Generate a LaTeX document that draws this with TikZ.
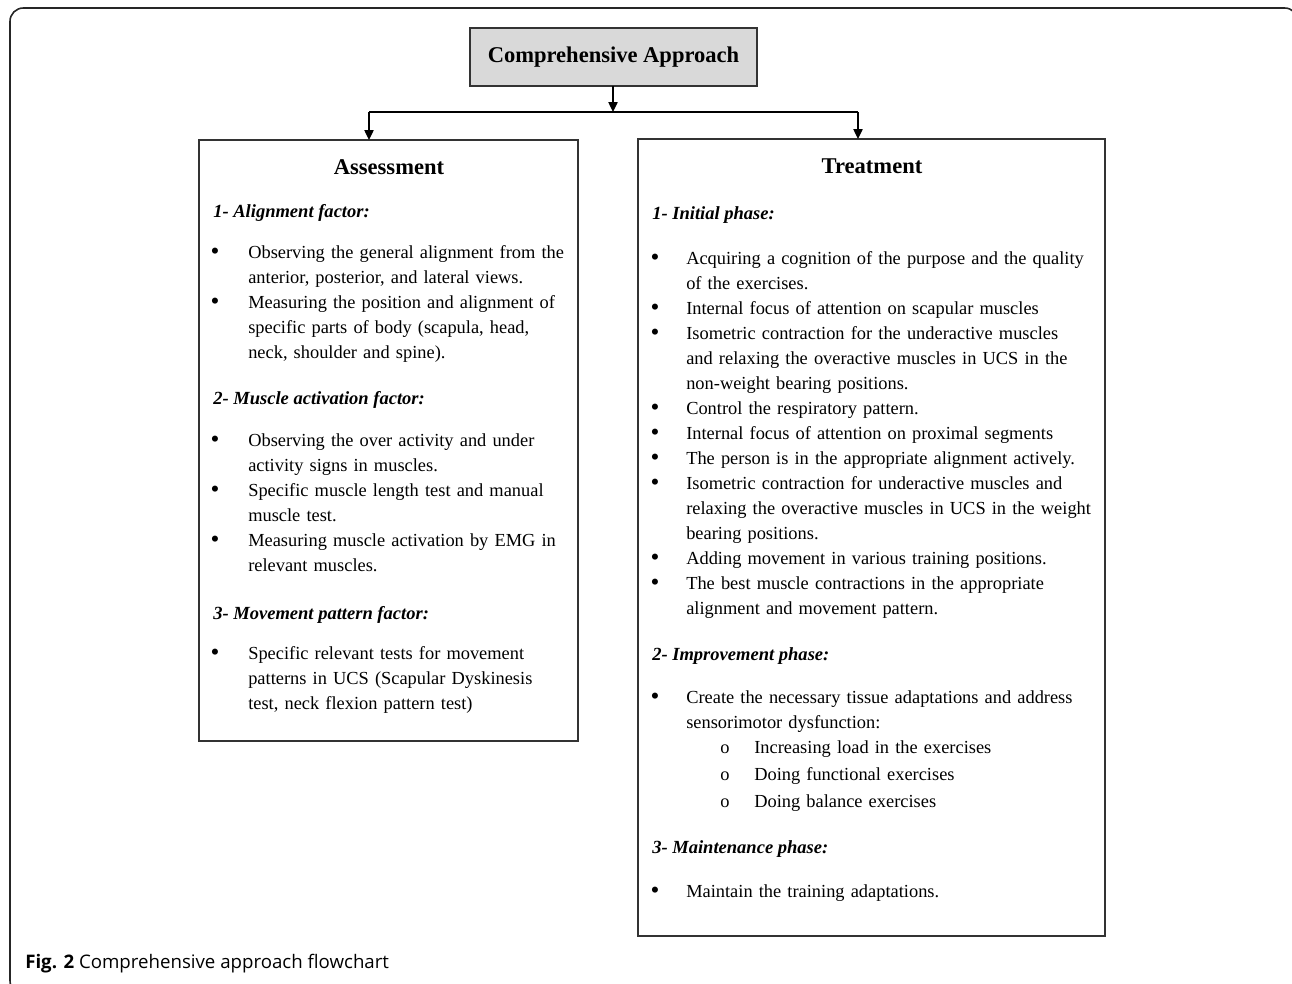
\documentclass[tikz,border=0pt]{standalone}
\usepackage{fontspec}
\setmainfont{Liberation Serif}
\newfontfamily\capfont{Open Sans}
\usetikzlibrary{arrows.meta}
\usetikzlibrary{positioning}

\begin{document}
\begin{tikzpicture}[x=0.75pt,y=-0.75pt,
    panel/.style={draw=black!80,line width=1pt,inner sep=0pt,outer sep=0pt},
    conn/.style={black,line width=1pt},
    arr/.style={conn,-{Triangle[width=7pt,length=7.5pt]}},
    boxtitle/.style={anchor=base,inner sep=0pt,font=\fontsize{16.9}{20}\selectfont\bfseries},
    phase/.style={anchor=base west,inner sep=0pt,font=\fontsize{13.9}{18.75}\selectfont\bfseries\itshape},
    itemtext/.style={anchor=base west,inner sep=0pt,text width=320pt,align=left,
      font=\fontsize{13.8}{18.75}\selectfont},
    dotmark/.style={anchor=base,inner sep=0pt,yshift=-1pt,font=\fontsize{19}{18.75}\selectfont}]

        \useasboundingbox (0,0) rectangle (1292,983);
        \begin{scope}
            \clip (0,0) rectangle (1292,983);
            \draw[black!85,line width=1.2pt,rounded corners=10pt] (10,8) rectangle (1298,994);
        \end{scope}

        % boxes
        \node[panel,fill=black!15,minimum width=215.25pt,minimum height=43.5pt,
          font=\fontsize{16.9}{20}\selectfont\bfseries] (top) at (613.5,57) {Comprehensive Approach};
        \node[panel,minimum width=284.25pt,minimum height=450.75pt] (assess) at (388.5,440.5) {};
        \node[panel,minimum width=350.25pt,minimum height=597.75pt] (treat) at (871.5,537.5) {};

        % connectors
        \coordinate (split) at (613,112);
        \coordinate (la) at (369,112);
        \coordinate (ra) at (858,112);
        \draw[arr] (top.south -| split) -- (split);
        \draw[conn] (la) -- (ra);
        \draw[arr] (la) -- (la |- assess.north);
        \draw[arr] (ra) -- (ra |- treat.north);

        % assessment
        \node[boxtitle] (assesshead) at (389,174) {Assessment};
        \node[phase] (ap1) at (213,217) {1- Alignment factor:};
        \node[itemtext] (ai1) at (248,258) {Observing the general alignment from the\\anterior, posterior, and lateral views.};
        \node[itemtext] (ai2) at (248,308) {Measuring the position and alignment of\\specific parts of body (scapula, head,\\neck, shoulder and spine).};
        \node[phase] (ap2) at (213,404) {2- Muscle activation factor:};
        \node[itemtext] (ai3) at (248,446) {Observing the over activity and under\\activity signs in muscles.};
        \node[itemtext] (ai4) at (248,496) {Specific muscle length test and manual\\muscle test.};
        \node[itemtext] (ai5) at (248,546) {Measuring muscle activation by EMG in\\relevant muscles.};
        \node[phase] (ap3) at (213,619) {3- Movement pattern factor:};
        \node[itemtext] (ai6) at (248,659) {Specific relevant tests for movement\\patterns in UCS (Scapular Dyskinesis\\test, neck flexion pattern test)};
        \foreach \y [count=\i] in {258,308,446,496,546,659}
            \node[dotmark] (ab\i) at (215,\y) {\textbullet};

        % treatment
        \node[boxtitle] (treathead) at (872,173) {Treatment};
        \node[phase] (tp1) at (652,219) {1- Initial phase:};
        \node[itemtext] (ti1) at (686,264) {Acquiring a cognition of the purpose and the quality\\of the exercises.};
        \node[itemtext] (ti2) at (686,314) {Internal focus of attention on scapular muscles};
        \node[itemtext] (ti3) at (686,339) {Isometric contraction for the underactive muscles\\and relaxing the overactive muscles in UCS in the\\non-weight bearing positions.};
        \node[itemtext] (ti4) at (686,414) {Control the respiratory pattern.};
        \node[itemtext] (ti5) at (686,439) {Internal focus of attention on proximal segments};
        \node[itemtext] (ti6) at (686,464) {The person is in the appropriate alignment actively.};
        \node[itemtext] (ti7) at (686,489) {Isometric contraction for underactive muscles and\\relaxing the overactive muscles in UCS in the weight\\bearing positions.};
        \node[itemtext] (ti8) at (686,564) {Adding movement in various training positions.};
        \node[itemtext] (ti9) at (686,589) {The best muscle contractions in the appropriate\\alignment and movement pattern.};
        \node[phase] (tp2) at (652,660) {2- Improvement phase:};
        \node[itemtext] (ti10) at (686,703) {Create the necessary tissue adaptations and address\\sensorimotor dysfunction:};
        \node[itemtext] (ts1) at (754,753) {Increasing load in the exercises};
        \node[itemtext] (ts2) at (754,780) {Doing functional exercises};
        \node[itemtext] (ts3) at (754,807) {Doing balance exercises};
        \node[phase] (tp3) at (652,853) {3- Maintenance phase:};
        \node[itemtext] (ti11) at (686,897) {Maintain the training adaptations.};
        \foreach \y [count=\i] in {264,314,339,414,439,464,489,564,589,703,897}
            \node[dotmark] (tb\i) at (655,\y) {\textbullet};
        \foreach \y [count=\i] in {753,780,807}
            \node[dotmark,yshift=1pt,font=\fontsize{13.8}{18.75}\selectfont] (to\i) at (725,\y) {o};

        % caption
        \node[anchor=base west,inner sep=0pt,font=\capfont\fontsize{14}{16}\selectfont] (caption) at (25,968)
          {\textbf{Fig. 2} Comprehensive approach flowchart};
    \end{tikzpicture}
\end{document}
